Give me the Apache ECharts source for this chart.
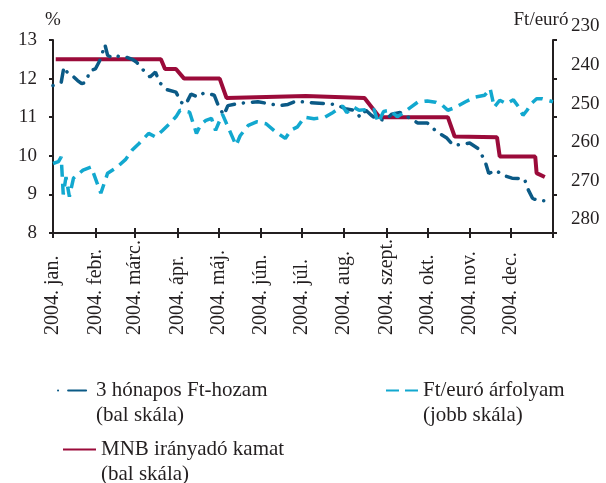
<!DOCTYPE html>
<html><head><meta charset="utf-8">
<script src="https://cdn.jsdelivr.net/npm/echarts@6/dist/echarts.min.js"></script>
<style>html,body{margin:0;padding:0;background:#fff}#c{width:606px;height:483px}</style>
</head><body><div id="c"></div><script>
// month boundaries (day of year 2004) and tick labels
const monthStarts = [0,31,60,91,121,152,182,213,244,274,305,335,366];
const monthLabels = ['2004. jan.','2004. febr.','2004. márc.','2004. ápr.','2004. máj.','2004. jún.','2004. júl.','2004. aug.','2004. szept.','2004. okt.','2004. nov.','2004. dec.'];

// 3 hónapos Ft-hozam (bal skála)
const yieldDays = [0,6,8,11,15,18,21,24,27,31,34,36,38,40,43,46,50,54,58,61,65,71,75,78,83,90,94,97,101,106,110,115,118,121,125,128,135,142,150,158,165,172,178,182,188,200,207,214,220,225,229,233,237,243,248,254,260,267,274,281,288,293,300,305,311,316,319,324,329,336,345,348,351,355,363];
const yieldVals = [11.82,11.9,12.3,12.13,12.05,11.95,11.87,11.9,12.2,12.25,12.45,12.65,12.88,12.6,12.55,12.6,12.55,12.55,12.5,12.43,12.26,12.04,12.17,11.9,11.72,11.65,11.38,11.32,11.6,11.52,11.62,11.6,11.57,11.3,11.05,11.3,11.35,11.38,11.4,11.35,11.3,11.33,11.42,11.4,11.38,11.35,11.33,11.22,11.18,11.0,11.18,11.05,10.95,10.92,11.08,11.12,11.0,10.85,10.85,10.62,10.47,10.27,10.3,10.33,10.19,9.89,9.54,9.63,9.5,9.42,9.41,9.11,8.9,8.84,8.83];

// Ft/euró árfolyam (jobb skála)
const fxDays = [0,4,6,7.5,9.5,12,15,22,28,35,40,47,53,58,63,70,75,80,85,90,93,100,105,108,112,116,119,124,134,137,143,149,156,163,170,174,179,184,191,199,204,209,212,215,220,224,230,235,238,242,247,252,256,262,267,274,280,285,289,295,302,309,316,320,323,327,332,337,341,344,347,350,354,358,362,366];
const fxVals = [262,261.5,260.3,270,265.5,270.6,265.8,263.7,262.9,269.7,264.5,262.9,261,258.5,256.8,254.2,255.1,253.5,251.8,249.9,248.2,248.7,254.2,252,250.8,250.3,253.4,249.2,257.3,254.8,252.1,251.2,251.7,253.8,255.5,253.4,252.5,250,250.4,250,249,247.8,247.1,248.8,247.4,248.2,248,248,251.4,248.5,248.2,249.9,249,247.4,246.1,245.8,246.1,246.9,248.2,247.4,246,244.8,244.3,242.6,247.4,245.6,246.5,245.5,247.4,249.5,248.2,246.5,245.2,245.2,245.6,246];

// MNB irányadó kamat (bal skála)
const rateDays = [2,79,82,90,96,122,127,185,228,239,289,294,325,327,353,354,360];
const rateVals = [12.5,12.5,12.25,12.25,12.0,12.0,11.5,11.55,11.5,11.0,11.0,10.5,10.48,9.98,9.98,9.55,9.45];

const names = ['3 hónapos Ft-hozam','Ft/euró árfolyam','MNB irányadó kamat'];
const legendText = {
  '3 hónapos Ft-hozam': '3 hónapos Ft-hozam\n(bal skála)',
  'Ft/euró árfolyam': 'Ft/euró árfolyam\n(jobb skála)',
  'MNB irányadó kamat': 'MNB irányadó kamat\n(bal skála)'
};

const zip = (a, b) => a.map((d, i) => [d, b[i]]);
const FONT = 'Liberation Serif';
const TXT = '#231f20';
const C_YIELD = '#0b5a86', C_FX = '#12a8cf', C_RATE = '#9b0b3a';

const legendBase = {
  orient: 'vertical', itemHeight: 4, selectedMode: false,
  itemStyle: { opacity: 0 },
  textStyle: { fontFamily: FONT, fontSize: 21, color: TXT, lineHeight: 25 },
  formatter: n => '\n' + legendText[n]
};

const chart = echarts.init(document.getElementById('c'), null, { renderer: 'canvas' });
chart.setOption({
  animation: false,
  backgroundColor: '#fff',
  grid: { left: 53, right: 53, top: 40, bottom: 250 },
  xAxis: [{
    type: 'value', min: 0, max: 366,
    axisLine: { onZero: false, lineStyle: { color: TXT, width: 2 } },
    axisTick: { show: true, length: 5, lineStyle: { color: TXT, width: 2 }, customValues: monthStarts },
    axisLabel: {
      rotate: 90, align: 'left', margin: 102, fontFamily: FONT, fontSize: 20, color: TXT,
      customValues: monthStarts.slice(0, 12),
      formatter: v => monthLabels[monthStarts.indexOf(v)] || ''
    },
    splitLine: { show: false }
  }, {
    type: 'value', min: 0, max: 366, position: 'bottom',
    axisLine: { show: true, onZero: false, lineStyle: { color: TXT, width: 2 } },
    axisTick: { show: true, inside: true, length: 5, lineStyle: { color: TXT, width: 2 }, customValues: monthStarts },
    axisLabel: { show: false },
    splitLine: { show: false }
  }],
  yAxis: [{
    type: 'value', min: 8, max: 13, interval: 1, position: 'left',
    name: '%', nameLocation: 'end', nameGap: 10, nameMoveOverlap: false,
    nameTextStyle: { fontFamily: FONT, fontSize: 19, color: TXT, align: 'center' },
    axisLine: { show: true, onZero: false, lineStyle: { color: TXT, width: 2 } },
    axisTick: { show: true, length: 4, lineStyle: { color: TXT, width: 2 } },
    axisLabel: { margin: 16, fontFamily: FONT, fontSize: 19, color: TXT },
    splitLine: { show: false }
  }, {
    type: 'value', min: 230, max: 280, interval: 10, inverse: true, position: 'right',
    name: 'Ft/euró', nameLocation: 'start', nameGap: 10, nameMoveOverlap: false,
    nameTextStyle: { fontFamily: FONT, fontSize: 19, color: TXT, align: 'center', verticalAlign: 'bottom', padding: [0, 24, 0, 0] },
    axisLine: { show: true, onZero: false, lineStyle: { color: TXT, width: 2 } },
    axisTick: { show: true, length: 4, lineStyle: { color: TXT, width: 2 } },
    axisLabel: { margin: 18, fontFamily: FONT, fontSize: 19, color: TXT, verticalAlign: 'bottom', padding: [0, 0, 4, 0] },
    splitLine: { show: false }
  }],
  legend: [
    Object.assign({}, legendBase, { data: [names[0]], left: 52, top: 348, itemWidth: 33,
      lineStyle: { type: [0.1, 10, 18, 20], dashOffset: 0 } }),
    Object.assign({}, legendBase, { data: [names[1]], left: 380, top: 348, itemWidth: 32,
      lineStyle: { type: [13, 6] } }),
    Object.assign({}, legendBase, { data: [names[2]], left: 57, top: 407, itemWidth: 33 })
  ],
  series: [{
    name: names[2], type: 'line', xAxisIndex: 0, yAxisIndex: 0, symbol: 'none',
    data: zip(rateDays, rateVals),
    lineStyle: { color: C_RATE, width: 4 }, itemStyle: { color: C_RATE }
  }, {
    name: names[0], type: 'line', xAxisIndex: 0, yAxisIndex: 0, symbol: 'none',
    data: zip(yieldDays, yieldVals),
    lineStyle: { color: C_YIELD, width: 3.5, type: [12, 9, 0.1, 9], dashOffset: 21, cap: 'round' },
    itemStyle: { color: C_YIELD }
  }, {
    name: names[1], type: 'line', xAxisIndex: 0, yAxisIndex: 1, symbol: 'none',
    data: zip(fxDays, fxVals),
    lineStyle: { color: C_FX, width: 3.5, type: [12, 7] }, itemStyle: { color: C_FX }
  }]
});
</script></body></html>
